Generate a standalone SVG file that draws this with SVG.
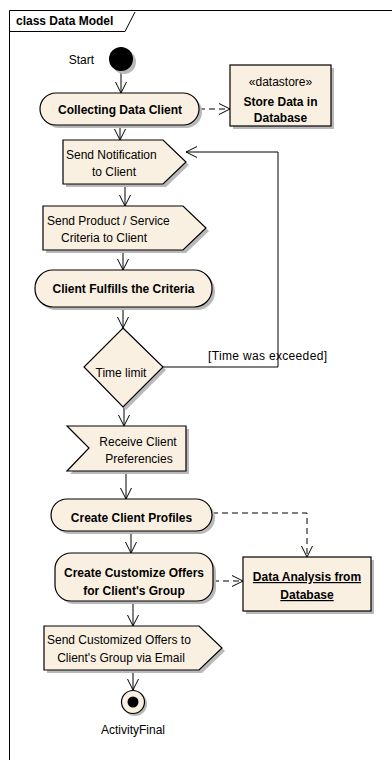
<svg xmlns="http://www.w3.org/2000/svg" width="392" height="760" viewBox="0 0 392 760">
<defs>
<style>
.sh{fill:#b9b9b9;stroke:none}
.nd{fill:#faf0e2;stroke:#000;stroke-width:1.2}
.t{font-family:"Liberation Sans",Arial,sans-serif;font-size:12px;fill:#000}
.b{font-weight:bold}
.c{text-anchor:middle}
.ln{fill:none;stroke:#000;stroke-width:1}
.ds{stroke-dasharray:6,4}
</style>
<marker id="ah" viewBox="0 0 12 12" refX="11" refY="6" markerWidth="12" markerHeight="12" markerUnits="userSpaceOnUse" orient="auto">
<path d="M0,0.5 L11,6 L0,11.5" fill="none" stroke="#000" stroke-width="1"/>
</marker>
</defs>
<rect width="392" height="760" fill="#fff"/>
<g id="frame">
<path d="M9.5,760 V10.5 H392" class="ln" stroke-width="1.2"/>
<path d="M9.5,31.5 H125 L135,12" class="ln"/>
<text x="16" y="25" class="t b" font-size="11">class Data Model</text>
</g>
<g id="connectors">
<path class="ln" d="M121,71 V93" marker-end="url(#ah)"/>
<path class="ln" d="M120,125 V140" marker-end="url(#ah)"/>
<path class="ln" d="M125,184 V206" marker-end="url(#ah)"/>
<path class="ln" d="M123,250 V270" marker-end="url(#ah)"/>
<path class="ln" d="M123,307 V328" marker-end="url(#ah)"/>
<path class="ln" d="M124,407 V426" marker-end="url(#ah)"/>
<path class="ln" d="M126,471 V499" marker-end="url(#ah)"/>
<path class="ln" d="M131,531 V553" marker-end="url(#ah)"/>
<path class="ln" d="M133,601 V626" marker-end="url(#ah)"/>
<path class="ln" d="M133,670 V690" marker-end="url(#ah)"/>
<path class="ln" d="M163,367 H278 V152 H186" marker-end="url(#ah)"/>
<text x="208" y="360" class="t" font-size="11" textLength="119">[Time was exceeded]</text>
<path class="ln ds" d="M199,109 H230" marker-end="url(#ah)"/>
<path class="ln ds" d="M212,513 H307 V557" marker-end="url(#ah)"/>
<path class="ln ds" d="M213,581 H243" marker-end="url(#ah)"/>
</g>
<g id="start">
<circle cx="124" cy="62" r="12" class="sh"/>
<circle cx="121" cy="59" r="12" fill="#000"/>
<text x="94" y="64" class="t" text-anchor="end">Start</text>
</g>
<g id="collecting">
<rect x="43" y="96" width="159" height="32" rx="16" class="sh"/>
<rect x="40" y="93" width="159" height="32" rx="16" class="nd"/>
<text x="120" y="114" class="t b c">Collecting Data Client</text>
</g>
<g id="store">
<rect x="233" y="68" width="101" height="61" class="sh"/>
<rect x="230" y="65" width="101" height="61" class="nd"/>
<text x="280.5" y="86" class="t c">«datastore»</text>
<text x="280.5" y="106" class="t b c">Store Data in</text>
<text x="280.5" y="122" class="t b c">Database</text>
</g>
<g id="notification">
<polygon points="66,143 166,143 189,165 166,187 66,187" class="sh"/>
<polygon points="63,140 163,140 186,162 163,184 63,184" class="nd"/>
<text x="66" y="159" class="t">Send Notification</text>
<text x="114" y="176" class="t c">to Client</text>
</g>
<g id="product">
<polygon points="46,209 186,209 209,231 186,253 46,253" class="sh"/>
<polygon points="43,206 183,206 206,228 183,250 43,250" class="nd"/>
<text x="47" y="225" class="t">Send Product / Service</text>
<text x="104" y="242" class="t c">Criteria to Client</text>
</g>
<g id="fulfills">
<rect x="38" y="273" width="177" height="37" rx="18" class="sh"/>
<rect x="35" y="270" width="177" height="37" rx="18" class="nd"/>
<text x="123.5" y="293" class="t b c">Client Fulfills the Criteria</text>
</g>
<g id="timelimit">
<polygon points="126,331 166,370 126,410 87,370" class="sh"/>
<polygon points="123,328 163,367 123,407 84,367" class="nd"/>
<text x="121" y="377" class="t c">Time limit</text>
</g>
<g id="receive">
<polygon points="70,429 189,429 189,474 70,474 92,451" class="sh"/>
<polygon points="67,426 186,426 186,471 67,471 89,448" class="nd"/>
<text x="138" y="446" class="t c">Receive Client</text>
<text x="139" y="463" class="t c">Preferencies</text>
</g>
<g id="profiles">
<rect x="54" y="502" width="161" height="32" rx="16" class="sh"/>
<rect x="51" y="499" width="161" height="32" rx="16" class="nd"/>
<text x="131.5" y="522" class="t b c">Create Client Profiles</text>
</g>
<g id="customize">
<rect x="58" y="556" width="158" height="48" rx="16" class="sh"/>
<rect x="55" y="553" width="158" height="48" rx="16" class="nd"/>
<text x="134" y="577" class="t b c">Create Customize Offers</text>
<text x="134" y="595" class="t b c">for Client's Group</text>
</g>
<g id="analysis">
<rect x="246" y="560" width="128" height="54" class="sh"/>
<rect x="243" y="557" width="128" height="54" class="nd"/>
<text x="307" y="581" class="t b c" text-decoration="underline">Data Analysis from</text>
<text x="307" y="599" class="t b c" text-decoration="underline">Database</text>
</g>
<g id="sendoffers">
<polygon points="47,629 202,629 225,651 202,673 47,673" class="sh"/>
<polygon points="44,626 199,626 222,648 199,670 44,670" class="nd"/>
<text x="47" y="644" class="t">Send Customized Offers to</text>
<text x="121" y="662" class="t c">Client's Group via Email</text>
</g>
<g id="final">
<circle cx="135" cy="704" r="12" class="sh"/>
<circle cx="133" cy="702" r="11.5" fill="#faf0e2" stroke="#000" stroke-width="1.2"/>
<circle cx="133" cy="702" r="5.5" fill="#000"/>
<text x="133" y="734" class="t c">ActivityFinal</text>
</g>
</svg>
